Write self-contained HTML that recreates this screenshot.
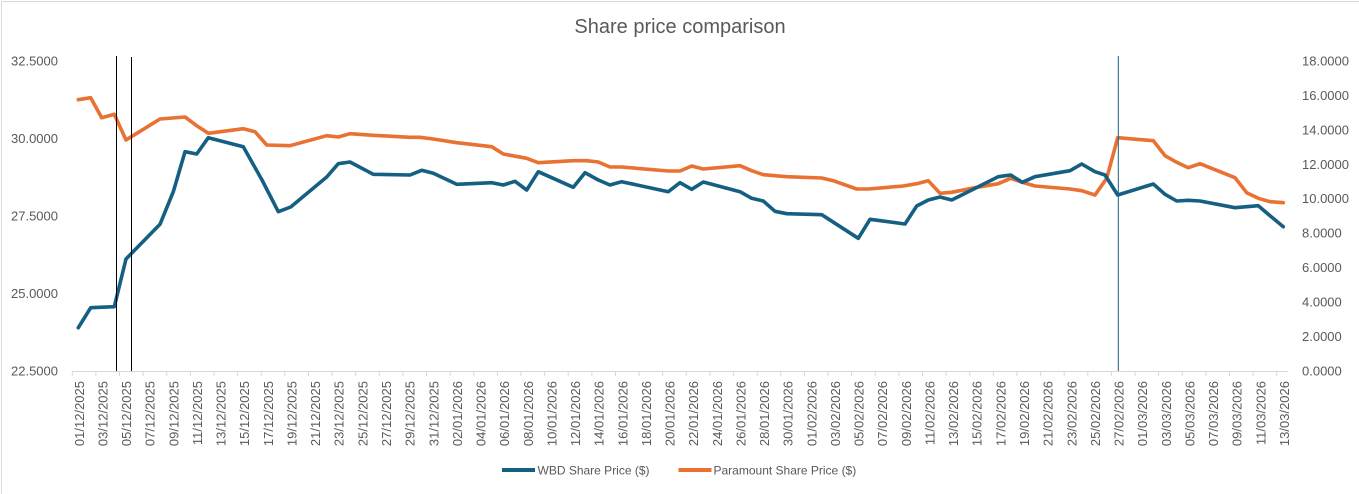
<!DOCTYPE html>
<html>
<head>
<meta charset="utf-8">
<style>
  html, body { margin:0; padding:0; background:#fff; }
  body { width:1359px; height:494px; overflow:hidden; }
  svg { display:block; font-family:"Liberation Sans", Arial, sans-serif; }
  .ax { fill:#595959; font-size:13px; }
  .xl { fill:#595959; font-size:13px; }
  .lg { fill:#595959; font-size:12px; }
</style>
</head>
<body>
<svg width="1359" height="494" viewBox="0 0 1359 494" xmlns="http://www.w3.org/2000/svg">
  <rect x="0" y="0" width="1359" height="494" fill="#fff"/>
  <line x1="1.5" y1="1.5" x2="1359" y2="1.5" stroke="#d9d9d9" stroke-width="1"/>
  <line x1="1.5" y1="1.5" x2="1.5" y2="494" stroke="#d9d9d9" stroke-width="1"/>

  <text x="680" y="33" text-anchor="middle" fill="#595959" font-size="20">Share price comparison</text>

  <!-- Left axis labels -->
  <g class="ax" text-anchor="end">
    <text x="58" y="65.3">32.5000</text>
    <text x="58" y="142.9">30.0000</text>
    <text x="58" y="220.5">27.5000</text>
    <text x="58" y="298">25.0000</text>
    <text x="58" y="375.6">22.5000</text>
  </g>
  <!-- Right axis labels -->
  <g class="ax" text-anchor="start">
    <text x="1302" y="65.3">18.0000</text>
    <text x="1302" y="99.8">16.0000</text>
    <text x="1302" y="134.3">14.0000</text>
    <text x="1302" y="168.8">12.0000</text>
    <text x="1302" y="203.2">10.0000</text>
    <text x="1302" y="237.7">8.0000</text>
    <text x="1302" y="272.2">6.0000</text>
    <text x="1302" y="306.7">4.0000</text>
    <text x="1302" y="341.1">2.0000</text>
    <text x="1302" y="375.6">0.0000</text>
  </g>

  <!-- X axis line and ticks -->
  <line x1="72" y1="371.5" x2="1288.5" y2="371.5" stroke="#d9d9d9" stroke-width="1"/>
  <g stroke="#d9d9d9" stroke-width="1">
    <line x1="72.3" y1="371" x2="72.3" y2="376"/><line x1="95.9" y1="371" x2="95.9" y2="376"/><line x1="119.5" y1="371" x2="119.5" y2="376"/><line x1="143.1" y1="371" x2="143.1" y2="376"/><line x1="166.8" y1="371" x2="166.8" y2="376"/><line x1="190.4" y1="371" x2="190.4" y2="376"/><line x1="214" y1="371" x2="214" y2="376"/><line x1="237.6" y1="371" x2="237.6" y2="376"/><line x1="261.2" y1="371" x2="261.2" y2="376"/><line x1="284.8" y1="371" x2="284.8" y2="376"/><line x1="308.5" y1="371" x2="308.5" y2="376"/><line x1="332.1" y1="371" x2="332.1" y2="376"/><line x1="355.7" y1="371" x2="355.7" y2="376"/><line x1="379.3" y1="371" x2="379.3" y2="376"/><line x1="402.9" y1="371" x2="402.9" y2="376"/><line x1="426.5" y1="371" x2="426.5" y2="376"/><line x1="450.2" y1="371" x2="450.2" y2="376"/><line x1="473.8" y1="371" x2="473.8" y2="376"/><line x1="497.4" y1="371" x2="497.4" y2="376"/><line x1="521" y1="371" x2="521" y2="376"/><line x1="544.6" y1="371" x2="544.6" y2="376"/><line x1="568.2" y1="371" x2="568.2" y2="376"/><line x1="591.9" y1="371" x2="591.9" y2="376"/><line x1="615.5" y1="371" x2="615.5" y2="376"/><line x1="639.1" y1="371" x2="639.1" y2="376"/><line x1="662.7" y1="371" x2="662.7" y2="376"/><line x1="686.3" y1="371" x2="686.3" y2="376"/><line x1="709.9" y1="371" x2="709.9" y2="376"/><line x1="733.6" y1="371" x2="733.6" y2="376"/><line x1="757.2" y1="371" x2="757.2" y2="376"/><line x1="780.8" y1="371" x2="780.8" y2="376"/><line x1="804.4" y1="371" x2="804.4" y2="376"/><line x1="828" y1="371" x2="828" y2="376"/><line x1="851.6" y1="371" x2="851.6" y2="376"/><line x1="875.2" y1="371" x2="875.2" y2="376"/><line x1="898.9" y1="371" x2="898.9" y2="376"/><line x1="922.5" y1="371" x2="922.5" y2="376"/><line x1="946.1" y1="371" x2="946.1" y2="376"/><line x1="969.7" y1="371" x2="969.7" y2="376"/><line x1="993.3" y1="371" x2="993.3" y2="376"/><line x1="1016.9" y1="371" x2="1016.9" y2="376"/><line x1="1040.6" y1="371" x2="1040.6" y2="376"/><line x1="1064.2" y1="371" x2="1064.2" y2="376"/><line x1="1087.8" y1="371" x2="1087.8" y2="376"/><line x1="1111.4" y1="371" x2="1111.4" y2="376"/><line x1="1135" y1="371" x2="1135" y2="376"/><line x1="1158.6" y1="371" x2="1158.6" y2="376"/><line x1="1182.3" y1="371" x2="1182.3" y2="376"/><line x1="1205.9" y1="371" x2="1205.9" y2="376"/><line x1="1229.5" y1="371" x2="1229.5" y2="376"/><line x1="1253.1" y1="371" x2="1253.1" y2="376"/><line x1="1276.7" y1="371" x2="1276.7" y2="376"/>
  </g>

  <!-- X labels -->
  <g class="xl" text-anchor="end">
    <text transform="translate(83.8,381) rotate(-90)">01/12/2025</text>
    <text transform="translate(107.4,381) rotate(-90)">03/12/2025</text>
    <text transform="translate(131.1,381) rotate(-90)">05/12/2025</text>
    <text transform="translate(154.7,381) rotate(-90)">07/12/2025</text>
    <text transform="translate(178.3,381) rotate(-90)">09/12/2025</text>
    <text transform="translate(201.9,381) rotate(-90)">11/12/2025</text>
    <text transform="translate(225.6,381) rotate(-90)">13/12/2025</text>
    <text transform="translate(249.2,381) rotate(-90)">15/12/2025</text>
    <text transform="translate(272.8,381) rotate(-90)">17/12/2025</text>
    <text transform="translate(296.5,381) rotate(-90)">19/12/2025</text>
    <text transform="translate(320.1,381) rotate(-90)">21/12/2025</text>
    <text transform="translate(343.7,381) rotate(-90)">23/12/2025</text>
    <text transform="translate(367.4,381) rotate(-90)">25/12/2025</text>
    <text transform="translate(391,381) rotate(-90)">27/12/2025</text>
    <text transform="translate(414.6,381) rotate(-90)">29/12/2025</text>
    <text transform="translate(438.3,381) rotate(-90)">31/12/2025</text>
    <text transform="translate(461.9,381) rotate(-90)">02/01/2026</text>
    <text transform="translate(485.5,381) rotate(-90)">04/01/2026</text>
    <text transform="translate(509.1,381) rotate(-90)">06/01/2026</text>
    <text transform="translate(532.8,381) rotate(-90)">08/01/2026</text>
    <text transform="translate(556.4,381) rotate(-90)">10/01/2026</text>
    <text transform="translate(580,381) rotate(-90)">12/01/2026</text>
    <text transform="translate(603.7,381) rotate(-90)">14/01/2026</text>
    <text transform="translate(627.3,381) rotate(-90)">16/01/2026</text>
    <text transform="translate(650.9,381) rotate(-90)">18/01/2026</text>
    <text transform="translate(674.6,381) rotate(-90)">20/01/2026</text>
    <text transform="translate(698.2,381) rotate(-90)">22/01/2026</text>
    <text transform="translate(721.8,381) rotate(-90)">24/01/2026</text>
    <text transform="translate(745.4,381) rotate(-90)">26/01/2026</text>
    <text transform="translate(769.1,381) rotate(-90)">28/01/2026</text>
    <text transform="translate(792.7,381) rotate(-90)">30/01/2026</text>
    <text transform="translate(816.3,381) rotate(-90)">01/02/2026</text>
    <text transform="translate(840,381) rotate(-90)">03/02/2026</text>
    <text transform="translate(863.6,381) rotate(-90)">05/02/2026</text>
    <text transform="translate(887.2,381) rotate(-90)">07/02/2026</text>
    <text transform="translate(910.9,381) rotate(-90)">09/02/2026</text>
    <text transform="translate(934.5,381) rotate(-90)">11/02/2026</text>
    <text transform="translate(958.1,381) rotate(-90)">13/02/2026</text>
    <text transform="translate(981.7,381) rotate(-90)">15/02/2026</text>
    <text transform="translate(1005.4,381) rotate(-90)">17/02/2026</text>
    <text transform="translate(1029,381) rotate(-90)">19/02/2026</text>
    <text transform="translate(1052.6,381) rotate(-90)">21/02/2026</text>
    <text transform="translate(1076.3,381) rotate(-90)">23/02/2026</text>
    <text transform="translate(1099.9,381) rotate(-90)">25/02/2026</text>
    <text transform="translate(1123.5,381) rotate(-90)">27/02/2026</text>
    <text transform="translate(1147.2,381) rotate(-90)">01/03/2026</text>
    <text transform="translate(1170.8,381) rotate(-90)">03/03/2026</text>
    <text transform="translate(1194.4,381) rotate(-90)">05/03/2026</text>
    <text transform="translate(1218,381) rotate(-90)">07/03/2026</text>
    <text transform="translate(1241.7,381) rotate(-90)">09/03/2026</text>
    <text transform="translate(1265.3,381) rotate(-90)">11/03/2026</text>
    <text transform="translate(1288.9,381) rotate(-90)">13/03/2026</text>
  </g>

  <!-- Series: Paramount (orange) -->
  <polyline fill="none" stroke="#E97132" stroke-width="3.6" stroke-linejoin="round" stroke-linecap="round"
    points="78.3,99.7 90.7,97.7 101.7,117.7 114.3,114.3 126,140 160,119 185,117 196.7,125.7 208.3,133.3 243.3,128.7 255,131.7 266.7,145 290,145.7 326.7,135.7 338.3,137 350,133.7 373.3,135.3 410,137.3 420,137.3 433.3,139 456.7,142.7 491.7,146.7 503.3,154 526.7,158.3 538.3,162.7 573.3,160.7 586.7,160.7 598.3,162 610,167 621.7,167 668.3,171 680,171 691.7,166 703.3,169 740,165.7 751.7,170.7 763.3,174.7 786.7,176.7 821.7,178 833.3,180.7 856.7,189 868.3,189 903.3,186 916.7,183.7 928.3,180.7 940,193.3 951.7,192.3 975,187.7 998.3,183.7 1010.7,178.3 1022.3,182.3 1035,186 1070,189 1081.7,190.7 1095,195 1106.7,178.3 1117.7,137.7 1153.3,140.7 1165,155.7 1176.7,162.3 1188.3,167.7 1200,163.7 1235,177.7 1246.7,192.7 1258.3,198.3 1270,201.7 1283.3,202.7"/>

  <!-- Series: WBD (blue) -->
  <polyline fill="none" stroke="#156082" stroke-width="3.6" stroke-linejoin="round" stroke-linecap="round"
    points="78.3,327.7 90.7,307.7 114.3,306.7 126,259 160,224.3 173.3,191.7 185,151.7 196.7,154 208.3,137.7 243.3,146.7 262,180 278.3,211.7 290.7,207 326.7,177 338.3,163.7 350,162 373.3,174.3 410,175 421.7,170.3 433.3,173.3 456.7,184.3 491.7,182.7 503.3,185 515,181.3 526.7,190 538.3,171.7 573.3,187.3 585,172.7 598.3,180 610,185 621.7,181.7 668.3,191.7 680,182.7 691.7,189.3 703.3,182 740,191.7 751.7,198.3 763.3,201 775,211.3 786.7,213.7 821.7,214.7 858.3,238.3 870,219.3 905,224 916.7,206 928.3,200 940,197 951.7,200 963.3,194.3 998.3,176.7 1010.7,175 1022.3,182.3 1035,176.7 1070,170.7 1081.7,164 1095,171.7 1105,175 1117.7,195 1153.3,184 1165,194.3 1176.7,201 1188.3,200.3 1200,201 1235,207.7 1258.3,205.7 1270,215.7 1283.3,226.7"/>

  <!-- Vertical marker lines -->
  <line x1="116.5" y1="56" x2="116.5" y2="371" stroke="#000" stroke-width="1"/>
  <line x1="131.5" y1="57" x2="131.5" y2="371" stroke="#000" stroke-width="1"/>
  <line x1="1118.3" y1="56" x2="1118.3" y2="371" stroke="#156082" stroke-width="1"/>

  <!-- Legend -->
  <line x1="502" y1="470" x2="535" y2="470" stroke="#156082" stroke-width="4"/>
  <text class="lg" x="537.5" y="474.5">WBD Share Price ($)</text>
  <line x1="678.5" y1="470" x2="711.5" y2="470" stroke="#E97132" stroke-width="4"/>
  <text class="lg" x="713.5" y="474.5">Paramount Share Price ($)</text>
</svg>
</body>
</html>
